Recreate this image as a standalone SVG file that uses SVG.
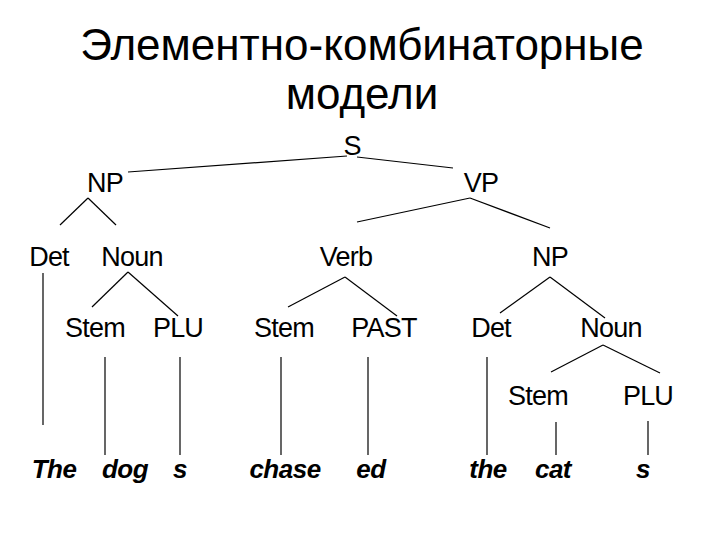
<svg xmlns="http://www.w3.org/2000/svg" width="720" height="540" viewBox="0 0 720 540">
<style>
.t{font-family:"Liberation Sans",Arial,sans-serif;font-size:27px;letter-spacing:-0.8px;fill:#000;text-anchor:middle}
.w{font-family:"Liberation Sans",Arial,sans-serif;font-size:26px;letter-spacing:-0.5px;font-weight:bold;font-style:italic;fill:#000;text-anchor:middle}
.h{font-family:"Liberation Sans",Arial,sans-serif;font-size:44px;fill:#000;text-anchor:middle}
line{stroke:#000;stroke-width:1.2}
</style>
<rect width="720" height="540" fill="#fff"/>
<text class="h" x="362" y="60">Элементно-комбинаторные</text>
<text class="h" x="362" y="109">модели</text>
<g id="connectors">
<line x1="128" y1="172" x2="347" y2="156"/><line x1="357" y1="157" x2="453" y2="168"/>
<line x1="88" y1="198" x2="60" y2="225"/><line x1="88" y1="198" x2="116" y2="225"/>
<line x1="470" y1="198" x2="357" y2="222"/><line x1="470" y1="198" x2="550" y2="228"/>
<line x1="128" y1="272" x2="92" y2="307"/><line x1="128" y1="272" x2="178" y2="316"/>
<line x1="345" y1="277" x2="288" y2="307"/><line x1="345" y1="277" x2="397" y2="316"/>
<line x1="550" y1="277" x2="500" y2="313"/><line x1="550" y1="277" x2="605" y2="318"/>
<line x1="603" y1="345" x2="551" y2="372"/><line x1="603" y1="345" x2="660" y2="373"/>
<line x1="43" y1="273" x2="43" y2="425"/>
<line x1="105" y1="357" x2="105" y2="455"/>
<line x1="180" y1="357" x2="180" y2="455"/>
<line x1="281" y1="357" x2="281" y2="455"/>
<line x1="368" y1="357" x2="368" y2="455"/>
<line x1="487" y1="357" x2="487" y2="455"/>
<line x1="556" y1="422" x2="556" y2="455"/>
<line x1="648" y1="421" x2="648" y2="455"/>
</g>
<g id="S"><text class="t" x="352" y="155">S</text></g>
<g id="NP1"><text class="t" x="105" y="192">NP</text></g>
<g id="VP"><text class="t" x="481" y="192">VP</text></g>
<g id="Det1"><text class="t" x="49" y="266">Det</text></g>
<g id="Noun1"><text class="t" x="132" y="266">Noun</text></g>
<g id="Verb"><text class="t" x="346" y="266">Verb</text></g>
<g id="NP2"><text class="t" x="550" y="266">NP</text></g>
<g id="Stem1"><text class="t" x="95" y="337">Stem</text></g>
<g id="PLU1"><text class="t" x="178" y="337">PLU</text></g>
<g id="Stem2"><text class="t" x="284" y="337">Stem</text></g>
<g id="PAST"><text class="t" x="384" y="337">PAST</text></g>
<g id="Det2"><text class="t" x="491" y="337">Det</text></g>
<g id="Noun2"><text class="t" x="611" y="337">Noun</text></g>
<g id="Stem3"><text class="t" x="538" y="405">Stem</text></g>
<g id="PLU2"><text class="t" x="648" y="405">PLU</text></g>
<g id="words">
<text class="w" x="54" y="478">The</text>
<text class="w" x="125" y="478">dog</text>
<text class="w" x="180" y="478">s</text>
<text class="w" x="285" y="478">chase</text>
<text class="w" x="371" y="478">ed</text>
<text class="w" x="488" y="478">the</text>
<text class="w" x="553" y="478">cat</text>
<text class="w" x="643" y="478">s</text>
</g>
</svg>
